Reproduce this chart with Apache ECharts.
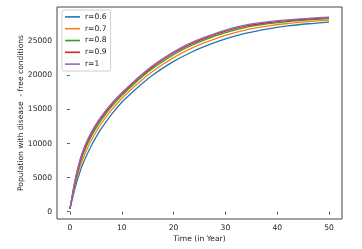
<!DOCTYPE html>
<html>
<head>
<meta charset="utf-8">
<script src="https://cdn.jsdelivr.net/npm/echarts@6/dist/echarts.min.js"></script>
<style>html,body{margin:0;padding:0;background:#fff}#c{width:362px;height:249px}</style>
</head>
<body>
<div id="c"></div>
<script>
const years = [0,1,2,3,4,5,6,8,10,12,14,16,18,20,23,26,30,34,38,42,46,50];
const r06 = [400,3500,6000,7900,9500,10900,12150,14250,16050,17500,18850,20050,21100,22050,23250,24250,25350,26200,26800,27250,27570,27820];
const r07 = [400,3980,6720,8700,10300,11660,12870,14890,16610,18060,19410,20610,21660,22610,23810,24790,25870,26680,27220,27610,27890,28110];
const r08 = [400,4340,7260,9300,10900,12230,13410,15370,17030,18480,19830,21030,22080,23030,24230,25200,26260,27040,27540,27880,28130,28330];
const r09 = [400,4560,7580,9660,11260,12570,13730,15660,17280,18730,20080,21280,22330,23280,24480,25440,26490,27260,27720,28040,28270,28460];
const r10 = [400,4700,7800,9900,11500,12800,13950,15850,17450,18900,20250,21450,22500,23450,24650,25600,26650,27400,27850,28150,28370,28550];
const seriesNames = ['r=0.6','r=0.7','r=0.8','r=0.9','r=1'];
const seriesValues = [r06,r07,r08,r09,r10];
const colors = ['#1f77b4','#ff7f0e','#2ca02c','#d62728','#9467bd'];
const xTicks = [0,10,20,30,40,50];
const yTicks = [0,5000,10000,15000,20000,25000];

const font = 'DejaVu Sans';
const chart = echarts.init(document.getElementById('c'), null, {renderer:'canvas'});
chart.setOption({
  animation:false,
  backgroundColor:'#fff',
  grid:{left:57,right:20,top:7,bottom:30,show:true,borderColor:'#444',borderWidth:1,backgroundColor:'transparent',containLabel:false,outerBoundsMode:'none'},
  legend:{
    left:62, top:10, orient:'vertical',
    icon:'rect', itemWidth:15, itemHeight:1.6, itemGap:0,
    padding:[1,4,1,3],
    backgroundColor:'rgba(255,255,255,0.8)',
    borderColor:'#d0d0d0', borderWidth:1, borderRadius:2,
    textStyle:{fontFamily:font,fontSize:7.6,color:'#222',lineHeight:11.8},
    data:seriesNames
  },
  xAxis:{
    type:'value', min:-2.5, max:52.5,
    name:'Time (in Year)', nameLocation:'middle', nameGap:16.5, nameMoveOverlap:false,
    nameTextStyle:{fontFamily:font,fontSize:7.6,color:'#222'},
    axisLine:{show:false},
    axisTick:{show:true,length:3,lineStyle:{color:'#333',width:0.8},customValues:xTicks},
    axisLabel:{fontFamily:font,fontSize:7.6,color:'#222',margin:5,customValues:xTicks,formatter:v=>String(v)},
    splitLine:{show:false}
  },
  yAxis:{
    type:'value', min:-1070, max:30030,
    name:'Population with disease  - free conditions', nameLocation:'middle', nameGap:32, nameMoveOverlap:false,
    nameTextStyle:{fontFamily:font,fontSize:7.6,color:'#222'},
    axisLine:{show:false},
    axisTick:{show:true,length:3,lineStyle:{color:'#333',width:0.8},customValues:yTicks},
    axisLabel:{fontFamily:font,fontSize:7.6,color:'#222',margin:5,customValues:yTicks,formatter:v=>String(v)},
    splitLine:{show:false}
  },
  series: seriesNames.map((n,i)=>({
    name:n, type:'line', color:colors[i],
    data: years.map((t,j)=>[t, seriesValues[i][j]]),
    showSymbol:false, smooth:0.3,
    lineStyle:{width:1.3,color:colors[i]}
  }))
});
</script>
</body>
</html>
